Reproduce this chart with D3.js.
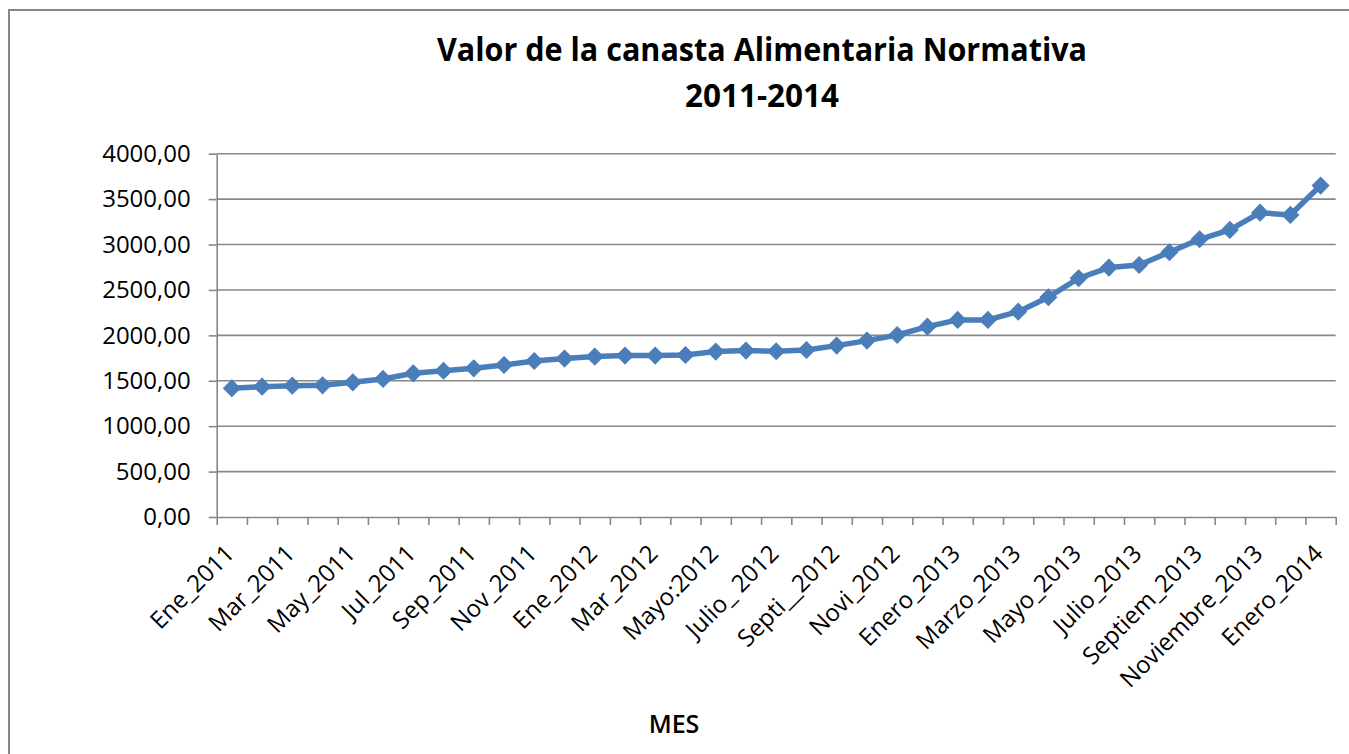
<!DOCTYPE html>
<html>
<head>
<meta charset="utf-8">
<script src="https://cdn.jsdelivr.net/npm/d3@7"></script>
<style>
    body { margin: 0; background: #ffffff; }
    svg { display: block; font-family: "Open Sans", "Noto Sans", sans-serif; }
    .grid line { stroke: #878787; stroke-width: 1.6; }
    .axis path, .axis line { stroke: #878787; stroke-width: 1.6; }
    .axis text { fill: #000000; font-size: 24px; font-family: "Open Sans", "Noto Sans", sans-serif; }
</style>
</head>
<body>
<script>

// Chart data
const months = [
    "Ene_2011", "Feb_2011", "Mar_2011", "Abr_2011", "May_2011", "Jun_2011",
    "Jul_2011", "Ago_2011", "Sep_2011", "Oct_2011", "Nov_2011", "Dic_2011",
    "Ene_2012", "Feb_2012", "Mar_2012", "Abr_2012", "Mayo:2012", "Junio_2012",
    "Julio_ 2012", "Agosto_2012", "Septi__2012", "Octu_2012", "Novi_2012", "Dic_2012",
    "Enero_2013", "Febrero_2013", "Marzo_2013", "Abril_2013", "Mayo_2013", "Junio_2013",
    "Julio_2013", "Agosto_2013", "Septiem_2013", "Octubre_2013", "Noviembre_2013", "Diciembre_2013",
    "Enero_2014"
];
const values = [
    1417, 1435, 1446, 1450, 1483, 1520,
    1582, 1610, 1637, 1674, 1718, 1744,
    1766, 1777, 1777, 1784, 1821, 1832,
    1825, 1839, 1887, 1942, 2004, 2096,
    2170, 2170, 2261, 2420, 2629, 2746,
    2775, 2915, 3058, 3161, 3351, 3326,
    3649
];
const yTicks = [0, 500, 1000, 1500, 2000, 2500, 3000, 3500, 4000];
const titleLines = ["Valor de la canasta Alimentaria Normativa", "2011-2014"];
const xTitle = "MES";

// Width and height of the svg
let width = 1349;
let height = 754;

// Plot area edges
let plotLeft = 216.7;
let plotRight = 1335.7;
let plotTop = 153.7;
let plotBottom = 517;

const svg = d3.select("body").append("svg")
    .attr("width", width)
    .attr("height", height)
    .attr("viewBox", [0, 0, width, height]);

// Outer chart frame (runs off the right and bottom of the picture)
svg.append("rect")
    .attr("x", 9)
    .attr("y", 10)
    .attr("width", width + 20)
    .attr("height", height + 20)
    .attr("fill", "none")
    .attr("stroke", "#878787")
    .attr("stroke-width", 2);

// Scales: x over category slots, y over values
let xScale = d3.scaleLinear().domain([0, months.length]).range([plotLeft, plotRight]);
let yScale = d3.scaleLinear().domain([0, 4000]).range([plotBottom, plotTop]);

// Horizontal grid lines
svg.append("g")
    .classed("grid", true)
    .selectAll("line")
    .data(yTicks.slice(1))
    .enter()
    .append("line")
    .attr("x1", plotLeft)
    .attr("x2", plotRight)
    .attr("y1", d => yScale(d))
    .attr("y2", d => yScale(d));

// Y axis with comma decimals
let yAxis = d3.axisLeft(yScale)
    .tickValues(yTicks)
    .tickSize(8)
    .tickSizeOuter(0)
    .tickPadding(18)
    .tickFormat(d => d3.format(".2f")(d).replace(".", ","));
svg.append("g")
    .classed("axis", true)
    .attr("transform", `translate(${plotLeft}, 0)`)
    .call(yAxis);

// X axis: tick marks between the categories, no labels here
let xAxis = d3.axisBottom(xScale)
    .tickValues(d3.range(months.length + 1))
    .tickSize(8)
    .tickSizeOuter(0)
    .tickFormat("");
svg.append("g")
    .classed("axis", true)
    .attr("transform", `translate(0, ${plotBottom})`)
    .call(xAxis);

// Rotated category labels, every second month
svg.append("g")
    .selectAll("text")
    .data(months.map((m, i) => [m, i]).filter(d => d[1] % 2 === 0))
    .enter()
    .append("text")
    .attr("transform", d => `translate(${xScale(d[1] + 0.5) + 4}, 555) rotate(-45)`)
    .attr("text-anchor", "end")
    .attr("font-size", 24)
    .attr("fill", "#000000")
    .text(d => d[0]);

// Line generator for the series
let line = d3.line()
    .x((v, i) => xScale(i + 0.5))
    .y(v => yScale(v));

svg.append("path")
    .datum(values)
    .attr("d", line)
    .attr("fill", "none")
    .attr("stroke", "#4a7ebb")
    .attr("stroke-width", 5.5)
    .attr("stroke-linejoin", "round");

// Diamond markers
let diamond = d3.symbol().type(d3.symbolSquare).size(140);
svg.append("g")
    .selectAll("path")
    .data(values)
    .enter()
    .append("path")
    .attr("d", diamond)
    .attr("transform", (v, i) => `translate(${xScale(i + 0.5)}, ${yScale(v)}) rotate(45)`)
    .attr("fill", "#4a7ebb")
    .attr("stroke", "#4a7ebb")
    .attr("stroke-width", 1);

// Title: larger bold face squeezed to the reference width
let titleCenter = 762;
svg.append("text")
    .attr("x", titleCenter)
    .attr("y", 61)
    .attr("text-anchor", "middle")
    .attr("font-weight", "bold")
    .attr("font-size", 32)
    .attr("textLength", 650)
    .attr("lengthAdjust", "spacingAndGlyphs")
    .text(titleLines[0]);
svg.append("text")
    .attr("x", titleCenter)
    .attr("y", 107)
    .attr("text-anchor", "middle")
    .attr("font-weight", "bold")
    .attr("font-size", 32)
    .attr("textLength", 154)
    .attr("lengthAdjust", "spacingAndGlyphs")
    .text(titleLines[1]);

// X axis title
svg.append("text")
    .attr("x", 674)
    .attr("y", 733)
    .attr("text-anchor", "middle")
    .attr("font-size", 25)
    .attr("font-weight", 600)
    .text(xTitle);

</script>
</body>
</html>
